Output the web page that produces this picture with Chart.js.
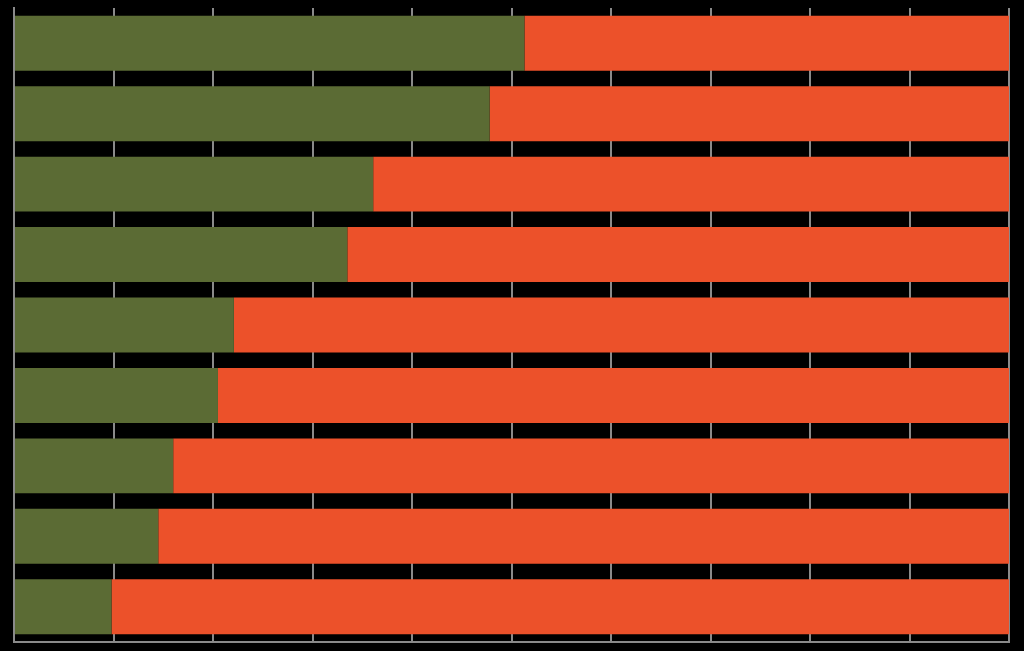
<!DOCTYPE html>
<html>
<head>
<meta charset="utf-8">
<script src="https://cdn.jsdelivr.net/npm/chart.js@4"></script>
<style>
  html, body { margin: 0; padding: 0; background: #000; }
  #wrap { width: 1024px; height: 651px; }
</style>
</head>
<body>
<div id="wrap"><canvas id="myChart"></canvas></div>
<script>
// categories (no labels shown in the picture)
const categories = ['1', '2', '3', '4', '5', '6', '7', '8', '9'];
// share of green part, percent
const greenValues = [51.3, 47.8, 36.1, 33.5, 22.1, 20.5, 16.0, 14.5, 9.8];
// rest up to 100
const orangeValues = [48.7, 52.2, 63.9, 66.5, 77.9, 79.5, 84.0, 85.5, 90.2];

const ctx = document.getElementById('myChart');

new Chart(ctx, {
  type: 'bar',
  data: {
    labels: categories,
    datasets: [{
      data: greenValues,
      backgroundColor: '#5b6b34',
      categoryPercentage: 1,
      barPercentage: 0.78
    }, {
      data: orangeValues,
      backgroundColor: '#ec512a',
      categoryPercentage: 1,
      barPercentage: 0.78
    }]
  },
  options: {
    indexAxis: 'y',
    responsive: true,
    maintainAspectRatio: false,
    animation: false,
    layout: { padding: { left: 14, right: 15, top: 8, bottom: 9 } },
    plugins: {
      legend: { display: false },
      tooltip: { enabled: false }
    },
    scales: {
      x: {
        stacked: true,
        min: 0,
        max: 100,
        ticks: { display: false, stepSize: 10 },
        grid: { color: '#8a8a8a', lineWidth: 2, drawTicks: false },
        border: { color: '#8a8a8a', width: 2 }
      },
      y: {
        stacked: true,
        ticks: { display: false },
        grid: { display: false, drawTicks: false },
        border: { color: '#8a8a8a', width: 2 }
      }
    }
  }
});
</script>
</body>
</html>
